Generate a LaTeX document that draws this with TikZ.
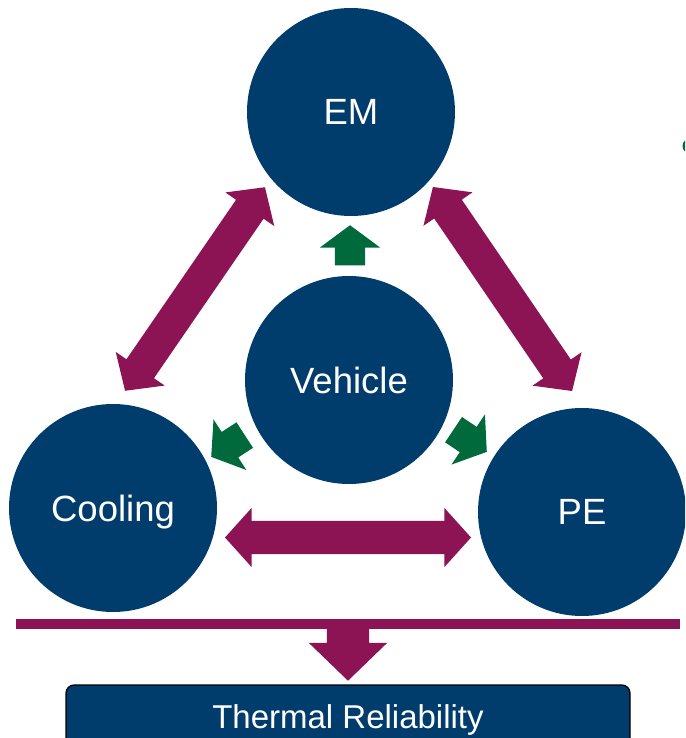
\documentclass[tikz,border=0pt]{standalone}
\usepackage{fontspec}
\setmainfont{Liberation Sans}
\usetikzlibrary{shapes.arrows}
\definecolor{navy}{RGB}{0,60,108}
\definecolor{plum}{RGB}{140,20,85}
\definecolor{leaf}{RGB}{0,106,60}
\begin{document}
\begin{tikzpicture}[x=1pt,y=-1pt,
  hub/.style={circle, fill=navy, inner sep=0pt, minimum size=208pt,
    text=white, text depth=0pt, font=\fontsize{36.5}{40}\selectfont},
  link/.style={double arrow, fill=plum, inner xsep=0pt, inner ysep=16.5pt,
    double arrow head extend=13pt, double arrow tip angle=96},
  push/.style={single arrow, fill=leaf, inner xsep=0pt, inner ysep=15pt,
    single arrow head extend=15pt, single arrow tip angle=107,
    minimum height=40pt, anchor=tip},
]
\useasboundingbox (0,0) rectangle (685,738);
\clip (0,0) rectangle (685,738);

% the four domains
\node[hub] (em)  at (351,112) {EM};
\node[hub] (veh) at (349,380) {Vehicle};
\node[hub] (cool) at (113,508) {Cooling};
\node[hub] (pe)  at (582,512) {PE};

% two-way couplings between the outer domains
\node[link, minimum height=247pt, rotate=55.5]  (linkCE) at (195,289) {};
\node[link, minimum height=247pt, rotate=-55.7] (linkEP) at (502.5,289) {};
\node[link, minimum height=246pt]               (linkCP) at (348,537.5) {};

% vehicle drives each domain (placed by their tips)
\node[push, rotate=90]    (pushE) at (350,225) {};
\node[push, rotate=213]   (pushC) at (211,457) {};
\node[push, rotate=-33.7] (pushP) at (487,452) {};

% bar collecting everything, feeding the outcome
\coordinate (barL) at (16,624);
\coordinate (barR) at (680,624);
\draw[plum, line width=10pt] (barL) -- (barR);
\node[single arrow, fill=plum, inner xsep=0pt, inner ysep=21pt,
  single arrow head extend=18pt, single arrow tip angle=92,
  minimum height=57pt, rotate=-90, anchor=tip] (drop) at (348,681) {};

\node[draw=black, line width=1.2pt, fill=navy, rounded corners=8pt,
  minimum width=564pt, minimum height=69pt, text=white,
  font=\fontsize{33}{36}\selectfont] (rel) at (348,719.5) {Thermal Reliability};

% bullet at the right edge
\fill[leaf] (690,146) circle (7.5);
\end{tikzpicture}
\end{document}
